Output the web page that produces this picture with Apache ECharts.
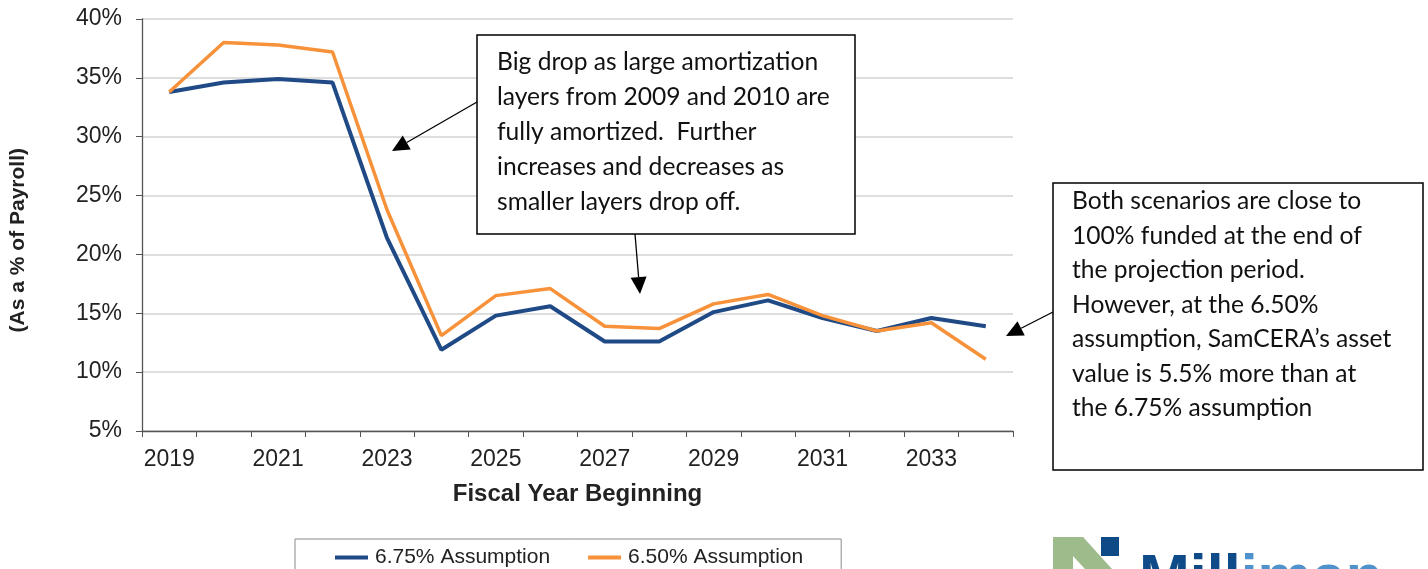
<!DOCTYPE html>
<html>
<head>
<meta charset="utf-8">
<script src="https://cdn.jsdelivr.net/npm/echarts@6/dist/echarts.min.js"></script>
<style>
  html, body { margin: 0; padding: 0; background: #fff; }
  #chart { width: 1428px; height: 569px; }
</style>
</head>
<body>
<div id="chart"></div>
<script>
// fiscal years on the x axis
const years = ['2019', '2020', '2021', '2022', '2023', '2024', '2025', '2026',
  '2027', '2028', '2029', '2030', '2031', '2032', '2033', '2034']

// contribution rate, % of payroll
const rate675 = [33.8, 34.6, 34.9, 34.6, 21.4, 11.9, 14.8, 15.6, 12.6, 12.6, 15.1, 16.1, 14.6, 13.5, 14.6, 13.9]
const rate650 = [33.8, 38.0, 37.8, 37.2, 23.8, 13.1, 16.5, 17.1, 13.9, 13.7, 15.8, 16.6, 14.8, 13.5, 14.2, 11.1]

const seriesNames = ['6.75% Assumption', '6.50% Assumption']
const yTicks = { min: 5, max: 40, step: 5 }

const note1 = 'Big drop as large amortization\nlayers from 2009 and 2010 are\nfully amortized.  Further\nincreases and decreases as\nsmaller layers drop off.'
const note2 = 'Both scenarios are close to\n100% funded at the end of\nthe projection period.\nHowever, at the 6.50%\nassumption, SamCERA\u2019s asset\nvalue is 5.5% more than at\nthe 6.75% assumption'

const FONT = "'Liberation Sans', Arial, sans-serif"
const NOTE_FONT = "Lato, 'Open Sans', sans-serif"

// straight arrow with a filled head ending at (x2, y2)
function arrow(x1, y1, x2, y2) {
  const len = 17, half = 8
  const dx = x2 - x1, dy = y2 - y1
  const d = Math.sqrt(dx * dx + dy * dy)
  const ux = dx / d, uy = dy / d
  const bx = x2 - ux * len, by = y2 - uy * len
  return [
    {
      type: 'line', silent: true, z: 10,
      shape: { x1, y1, x2: bx, y2: by },
      style: { stroke: '#000', lineWidth: 1.3 }
    },
    {
      type: 'polygon', silent: true, z: 10,
      shape: { points: [[x2, y2], [bx - uy * half, by + ux * half], [bx + uy * half, by - ux * half]] },
      style: { fill: '#000' }
    }
  ]
}

const chart = echarts.init(document.getElementById('chart'))

chart.setOption({
  backgroundColor: '#fff',
  animation: false,
  textStyle: { fontFamily: FONT },
  grid: { left: 142, right: 415, top: 19, bottom: 138, containLabel: false },
  legend: {
    left: 295,
    top: 539,
    padding: [8, 38, 14, 40],
    borderColor: '#8a8a8a',
    borderWidth: 1,
    itemGap: 38,
    itemWidth: 33,
    itemHeight: 4,
    icon: 'rect',
    textStyle: { fontFamily: FONT, fontSize: 21, color: '#222', padding: [0, 0, 0, 2] },
    data: seriesNames
  },
  xAxis: {
    type: 'category',
    data: years,
    boundaryGap: true,
    name: 'Fiscal Year Beginning',
    nameLocation: 'middle',
    nameGap: 51,
    nameTextStyle: { fontFamily: FONT, fontSize: 24, fontWeight: 'bold', color: '#222' },
    axisLine: { lineStyle: { color: '#555', width: 1.3 } },
    axisTick: { show: true, interval: 0, length: 6, lineStyle: { color: '#555' } },
    axisLabel: { interval: 1, margin: 17, fontSize: 23, color: '#222', fontFamily: FONT },
    splitLine: { show: false }
  },
  yAxis: {
    type: 'value',
    min: yTicks.min,
    max: yTicks.max,
    interval: yTicks.step,
    axisLine: { show: true, lineStyle: { color: '#555', width: 1.3 } },
    axisTick: { show: true, length: 6, lineStyle: { color: '#555' } },
    axisLabel: { formatter: '{value}%', margin: 20, fontSize: 23, color: '#222', fontFamily: FONT },
    splitLine: { lineStyle: { color: '#d3d3d3', width: 1.5 } }
  },
  series: [
    {
      name: seriesNames[0],
      type: 'line',
      data: rate675,
      symbol: 'none',
      color: '#1f4a86',
      lineStyle: { width: 4, color: '#1f4a86' },
      z: 3
    },
    {
      name: seriesNames[1],
      type: 'line',
      data: rate650,
      symbol: 'none',
      color: '#f7923a',
      lineStyle: { width: 3.5, color: '#f7923a' },
      z: 4
    }
  ],
  graphic: [
    {
      type: 'text', left: 8, top: 148, rotation: Math.PI / 2, silent: true,
      style: { text: '(As a % of Payroll)', font: 'bold 21px ' + FONT, fill: '#222' }
    },
    {
      type: 'rect', z: 9, silent: true,
      shape: { x: 477, y: 35, width: 378, height: 199 },
      style: { fill: '#fff', stroke: '#000', lineWidth: 1.5 }
    },
    {
      type: 'text', z: 11, silent: true, x: 497, y: 45,
      style: { text: note1, font: '24.6px ' + NOTE_FONT, lineHeight: 35, fill: '#111', verticalAlign: 'top' }
    },
    {
      type: 'rect', z: 9, silent: true,
      shape: { x: 1053, y: 183, width: 370, height: 287 },
      style: { fill: '#fff', stroke: '#000', lineWidth: 1.5 }
    },
    {
      type: 'text', z: 11, silent: true, x: 1072, y: 184,
      style: { text: note2, font: '24.6px ' + NOTE_FONT, lineHeight: 34.5, fill: '#111', verticalAlign: 'top' }
    },
    ...arrow(477, 102, 392, 151),
    ...arrow(635, 234, 640, 294),
    ...arrow(1053, 312, 1006, 336),
    // logo, cut by the bottom edge
    {
      type: 'polygon', silent: true,
      shape: { points: [[1053, 537], [1083, 537], [1112, 569], [1085, 569], [1073, 556], [1073, 569], [1053, 569]] },
      style: { fill: '#9dbb8b' }
    },
    {
      type: 'rect', silent: true,
      shape: { x: 1101, y: 537, width: 18, height: 19 },
      style: { fill: '#0d4a86' }
    },
    {
      type: 'text', silent: true, x: 1139, y: 580,
      style: {
        text: '{a|Mill}{b|iman}',
        verticalAlign: 'middle',
        rich: {
          a: { font: 'bold 61px ' + FONT, fill: '#0f4b88' },
          b: { font: 'bold 61px ' + FONT, fill: '#4f93cc' }
        }
      }
    }
  ]
})
</script>
</body>
</html>
